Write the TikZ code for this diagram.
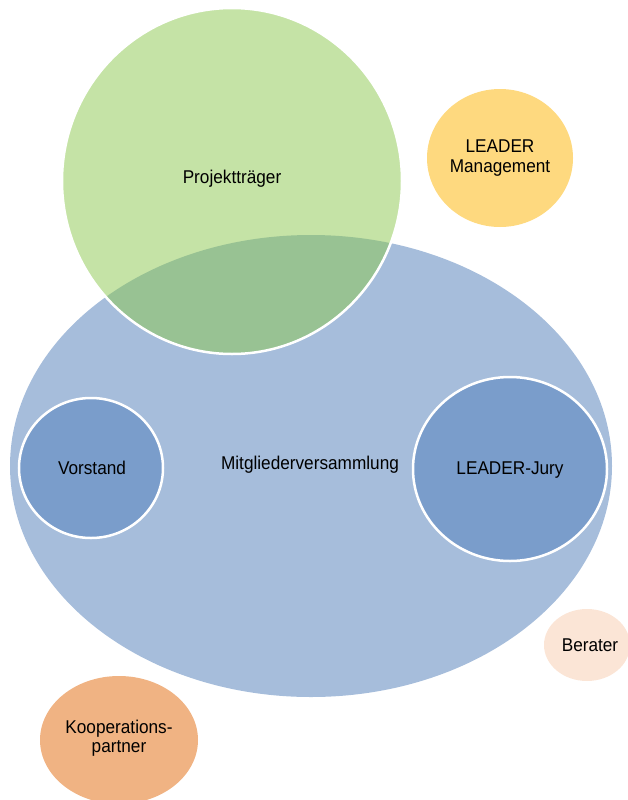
\documentclass[tikz,border=0pt]{standalone}
\usepackage{fontspec}
\setmainfont{Liberation Sans}[FakeStretch=0.93]
\usepackage{xcolor}
\usepackage{tikz}

\definecolor{mvblue}{HTML}{A6BDDB}
\definecolor{innerblue}{HTML}{7A9DCB}
\definecolor{ptgreen}{HTML}{8BC74D}
\definecolor{lmyellow}{HTML}{FED97F}
\definecolor{koorange}{HTML}{F0B383}
\definecolor{berpeach}{HTML}{FBE5D6}

\begin{document}
\begin{tikzpicture}[x=1pt,y=-1pt,
    ring/.style={draw=white,line width=2.5pt},
    lbl/.style={align=center,text=black,font=\fontsize{18.5}{19.5}\selectfont}]
                \useasboundingbox (0,0) rectangle (627,800);

                % Mitgliederversammlung
                \fill[mvblue] (311,466) ellipse (301 and 231);
                \node[lbl] (mv) at (310,465) {Mitgliederversammlung};

                % Projekttraeger
                \draw[ring,fill=ptgreen,fill opacity=0.5] (232,181) ellipse (170 and 173);
                \node[lbl] (pt) at (232,179) {Projektträger};

                % LEADER Management
                \fill[lmyellow] (500,158) ellipse (73 and 69);
                \node[lbl] (lm) at (500,158) {LEADER\\Management};

                % Vorstand
                \draw[ring,fill=innerblue] (91,468) ellipse (72 and 70);
                \node[lbl] (vs) at (92,468) {Vorstand};

                % LEADER-Jury
                \draw[ring,fill=innerblue] (510,469) ellipse (97 and 92);
                \node[lbl] (lj) at (510,470) {LEADER-Jury};

                % Berater
                \fill[berpeach] (587,645) ellipse (43 and 36);
                \node[lbl] (br) at (590,645) {Berater};

                % Kooperationspartner
                \fill[koorange] (119,740) ellipse (79 and 64);
                \node[lbl] (kp) at (119,738) {Kooperations-\\partner};
            \end{tikzpicture}
\end{document}
